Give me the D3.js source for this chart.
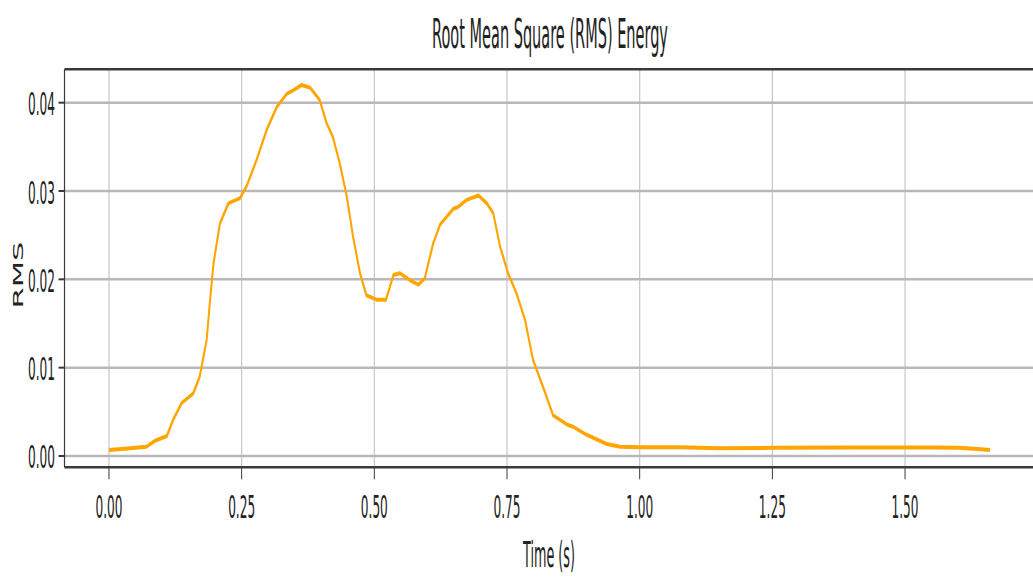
<!DOCTYPE html>
<html>
<head>
<meta charset="utf-8">
<script src="https://cdn.jsdelivr.net/npm/d3@7"></script>
<style>
  html, body { margin: 0; padding: 0; background: #ffffff; }
  svg { display: block; }
  text { font-family: "DejaVu Sans", sans-serif; fill: #222; }
</style>
</head>
<body>
<svg id="chart" width="1033" height="586"></svg>
<script>
// ---- data ----
const times = [0.000,0.035,0.071,0.087,0.109,0.121,0.137,0.159,0.171,0.184,0.190,0.197,0.209,0.225,0.247,0.259,0.278,0.297,0.316,0.335,0.347,0.363,0.379,0.397,0.410,0.422,0.435,0.448,0.460,0.473,0.485,0.504,0.522,0.536,0.548,0.567,0.583,0.595,0.611,0.624,0.649,0.658,0.674,0.696,0.712,0.724,0.737,0.752,0.768,0.784,0.799,0.818,0.837,0.865,0.875,0.900,0.938,0.963,1.000,1.076,1.150,1.250,1.400,1.550,1.600,1.630,1.660];
const rmsValues = [0.00068,0.00085,0.00105,0.00173,0.00226,0.0041,0.0060,0.0071,0.0090,0.0131,0.0173,0.0218,0.0263,0.0286,0.0292,0.0305,0.0335,0.0369,0.0395,0.0410,0.0414,0.0420,0.0417,0.0403,0.0377,0.0361,0.0331,0.0294,0.0248,0.0207,0.0182,0.0177,0.0177,0.0205,0.0207,0.0199,0.0194,0.0201,0.0241,0.0262,0.0280,0.0282,0.0290,0.0295,0.0286,0.0275,0.0237,0.0207,0.0184,0.0154,0.0109,0.0078,0.0046,0.0035,0.0033,0.0024,0.00136,0.00105,0.00098,0.00098,0.00088,0.00092,0.00095,0.00095,0.00092,0.00082,0.00068];
const xTicks = [0, 0.25, 0.5, 0.75, 1.0, 1.25, 1.5];
const yTicks = [0, 0.01, 0.02, 0.03, 0.04];
const titleText = "Root Mean Square (RMS) Energy";
const xLabelText = "Time (s)";
const yLabelText = "RMS";

// ---- layout ----
const pLeft = 64.5, pRight = 1034, pTop = 69.3, pBottom = 467.3;
const svg = d3.select("#chart");
const x = d3.scaleLinear().domain([-0.0838, 1.743]).range([pLeft, pRight]);
const y = d3.scaleLinear().domain([-0.00128, 0.04378]).range([pBottom, pTop]);
const fmt = d3.format(".2f");

// place a horizontally condensed text: anchor point (ax, ay), target width w
function condensed(sel, ax, ay, w, anchor) {
  sel.each(function() {
    const node = this;
    const natural = node.getComputedTextLength();
    const s = w / natural;
    d3.select(node)
      .attr("x", 0).attr("y", 0)
      .attr("text-anchor", anchor)
      .attr("transform", `translate(${typeof ax === "function" ? ax(d3.select(node).datum()) : ax},${typeof ay === "function" ? ay(d3.select(node).datum()) : ay}) scale(${s},1)`);
  });
}

// grid
svg.append("g").selectAll("line").data(xTicks).join("line")
  .attr("x1", d => x(d)).attr("x2", d => x(d))
  .attr("y1", pTop).attr("y2", pBottom)
  .attr("stroke", "#c6c6c6").attr("stroke-width", 1.2);
svg.append("g").selectAll("line").data(yTicks).join("line")
  .attr("x1", pLeft).attr("x2", pRight)
  .attr("y1", d => y(d)).attr("y2", d => y(d))
  .attr("stroke", "#b8b8b8").attr("stroke-width", 2.5);

// data line drawn in a horizontally compressed frame (anisotropic stroke)
const k = 0.5;
const xi = d3.scaleLinear().domain(x.domain()).range([pLeft / k, pRight / k]);
const pts = times.map((t, i) => [t, rmsValues[i]]);
svg.append("g").attr("transform", `scale(${k},1)`)
  .append("path")
  .datum(pts)
  .attr("fill", "none")
  .attr("stroke", "#FFA500")
  .attr("stroke-width", 4)
  .attr("stroke-linejoin", "round")
  .attr("stroke-linecap", "butt")
  .attr("d", d3.line().x(d => xi(d[0])).y(d => y(d[1])));

// frame
svg.append("line").attr("x1", pLeft).attr("x2", 1040).attr("y1", pTop).attr("y2", pTop)
  .attr("stroke", "#3a3a3a").attr("stroke-width", 2.6);
svg.append("line").attr("x1", pLeft).attr("x2", 1040).attr("y1", pBottom).attr("y2", pBottom)
  .attr("stroke", "#3a3a3a").attr("stroke-width", 2.6);
svg.append("line").attr("x1", pLeft).attr("x2", pLeft).attr("y1", pTop).attr("y2", pBottom)
  .attr("stroke", "#3a3a3a").attr("stroke-width", 1.2);

// ticks
svg.append("g").selectAll("line").data(yTicks).join("line")
  .attr("x1", pLeft - 6).attr("x2", pLeft)
  .attr("y1", d => y(d)).attr("y2", d => y(d))
  .attr("stroke", "#3a3a3a").attr("stroke-width", 2);
svg.append("g").selectAll("line").data(xTicks).join("line")
  .attr("x1", d => x(d)).attr("x2", d => x(d))
  .attr("y1", pBottom).attr("y2", pBottom + 12)
  .attr("stroke", "#3a3a3a").attr("stroke-width", 1);

// tick labels
const yl = svg.append("g").selectAll("text").data(yTicks).join("text")
  .attr("font-size", 31.5).text(d => fmt(d));
condensed(yl, 55, d => y(d) + 12.5, 27, "end");
const xl = svg.append("g").selectAll("text").data(xTicks).join("text")
  .attr("font-size", 31.5).text(d => fmt(d));
condensed(xl, d => x(d), 518, 27, "middle");

// title
const tt = svg.append("text").attr("font-size", 41.5).text(titleText);
condensed(tt, 550, 47.5, 236, "middle");

// x label
const xlab = svg.append("text").attr("font-size", 36).text(xLabelText);
condensed(xlab, 549, 566.5, 52, "middle");

// y label (rotated, horizontally compressed)
svg.append("text")
  .attr("transform", "translate(23.3,275) scale(0.48,1) rotate(-90)")
  .attr("text-anchor", "middle").attr("font-size", 30.5)
  .text(yLabelText);
</script>
</body>
</html>
